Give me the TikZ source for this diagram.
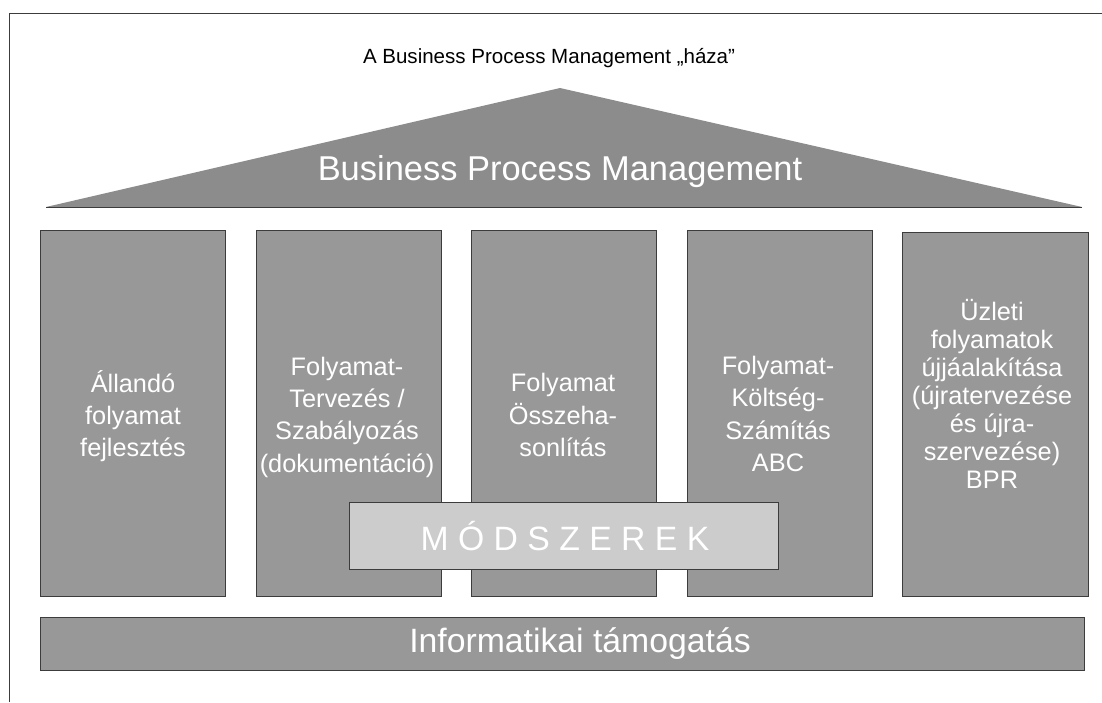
\documentclass[tikz,border=0pt]{standalone}
\usepackage{fontspec}
\setmainfont{Liberation Sans}
\usetikzlibrary{positioning}
\definecolor{roofgray}{RGB}{140,140,140}
\definecolor{pillargray}{RGB}{152,152,152}
\definecolor{methodgray}{RGB}{204,204,204}
\definecolor{edgegray}{RGB}{60,60,60}

\begin{document}
\begin{tikzpicture}[x=0.025cm,y=-0.025cm,
    pillar/.style={draw=edgegray,fill=pillargray,minimum width=4.625cm,
      minimum height=9.15cm,inner sep=0pt},
    pillartext/.style={white,align=center,font=\fontsize{18}{23}\selectfont},
    bigtext/.style={white,font=\fontsize{24}{28}\selectfont}]
    \useasboundingbox (0,0) rectangle (1102,702);

    % page frame (left and top edge)
    \draw[edgegray,thin] (9,702) -- (9,13) -- (1102,13);

    \node[font=\fontsize{14.6}{18}\selectfont] (title) at (549,58)
      {A Business Process Management „háza”};

    % roof
    \fill[roofgray] (46,207) -- (560,88) -- (1082,207) -- cycle;
    \draw[edgegray,thin] (46,207) -- (1082,207);
    \node[bigtext,font=\fontsize{24.5}{28}\selectfont] (roof) at (560,172)
      {Business Process Management};

    % pillars
    \node[pillar,anchor=north west] (p1) at (40,230) {};
    \node[pillar,right=0.75cm of p1] (p2) {};
    \node[pillar,right=0.75cm of p2] (p3) {};
    \node[pillar,right=0.75cm of p3] (p4) {};
    \node[pillar,right=0.75cm of p4,minimum height=9.1cm,yshift=-0.025cm] (p5) {};

    \node[pillartext] (t1) at (133,416) {Állandó\\folyamat\\fejlesztés};
    \node[pillartext] (t2) at (347,417)
      {Folyamat-\\Tervezés /\\Szabályozás\\(dokumentáció)};
    \node[pillartext] (t3) at (563,415) {Folyamat\\Összeha-\\sonlítás};
    \node[pillartext] (t4) at (778,414)
      {Folyamat-\\Költség-\\Számítás\\ABC};
    \node[pillartext,font=\fontsize{18}{20}\selectfont] (t5) at (992,394)
      {Üzleti\\folyamatok\\újjáalakítása\\(újratervezése\\és újra-\\szervezése)\\BPR};

    % methods band across the middle pillars
    \node[draw=edgegray,fill=methodgray,minimum width=10.725cm,minimum height=1.675cm,
      inner sep=0pt] (methods) at (563.5,535.5) {};
    \node[bigtext] (methodstext) at (565,536) {M Ó D S Z E R E K};

    % foundation
    \node[draw=edgegray,fill=pillargray,minimum width=26.1cm,minimum height=1.325cm,
      inner sep=0pt] (base) at (562,643.5) {};
    \node[bigtext] (basetext) at (580,644) {Informatikai támogatás};
\end{tikzpicture}
\end{document}
